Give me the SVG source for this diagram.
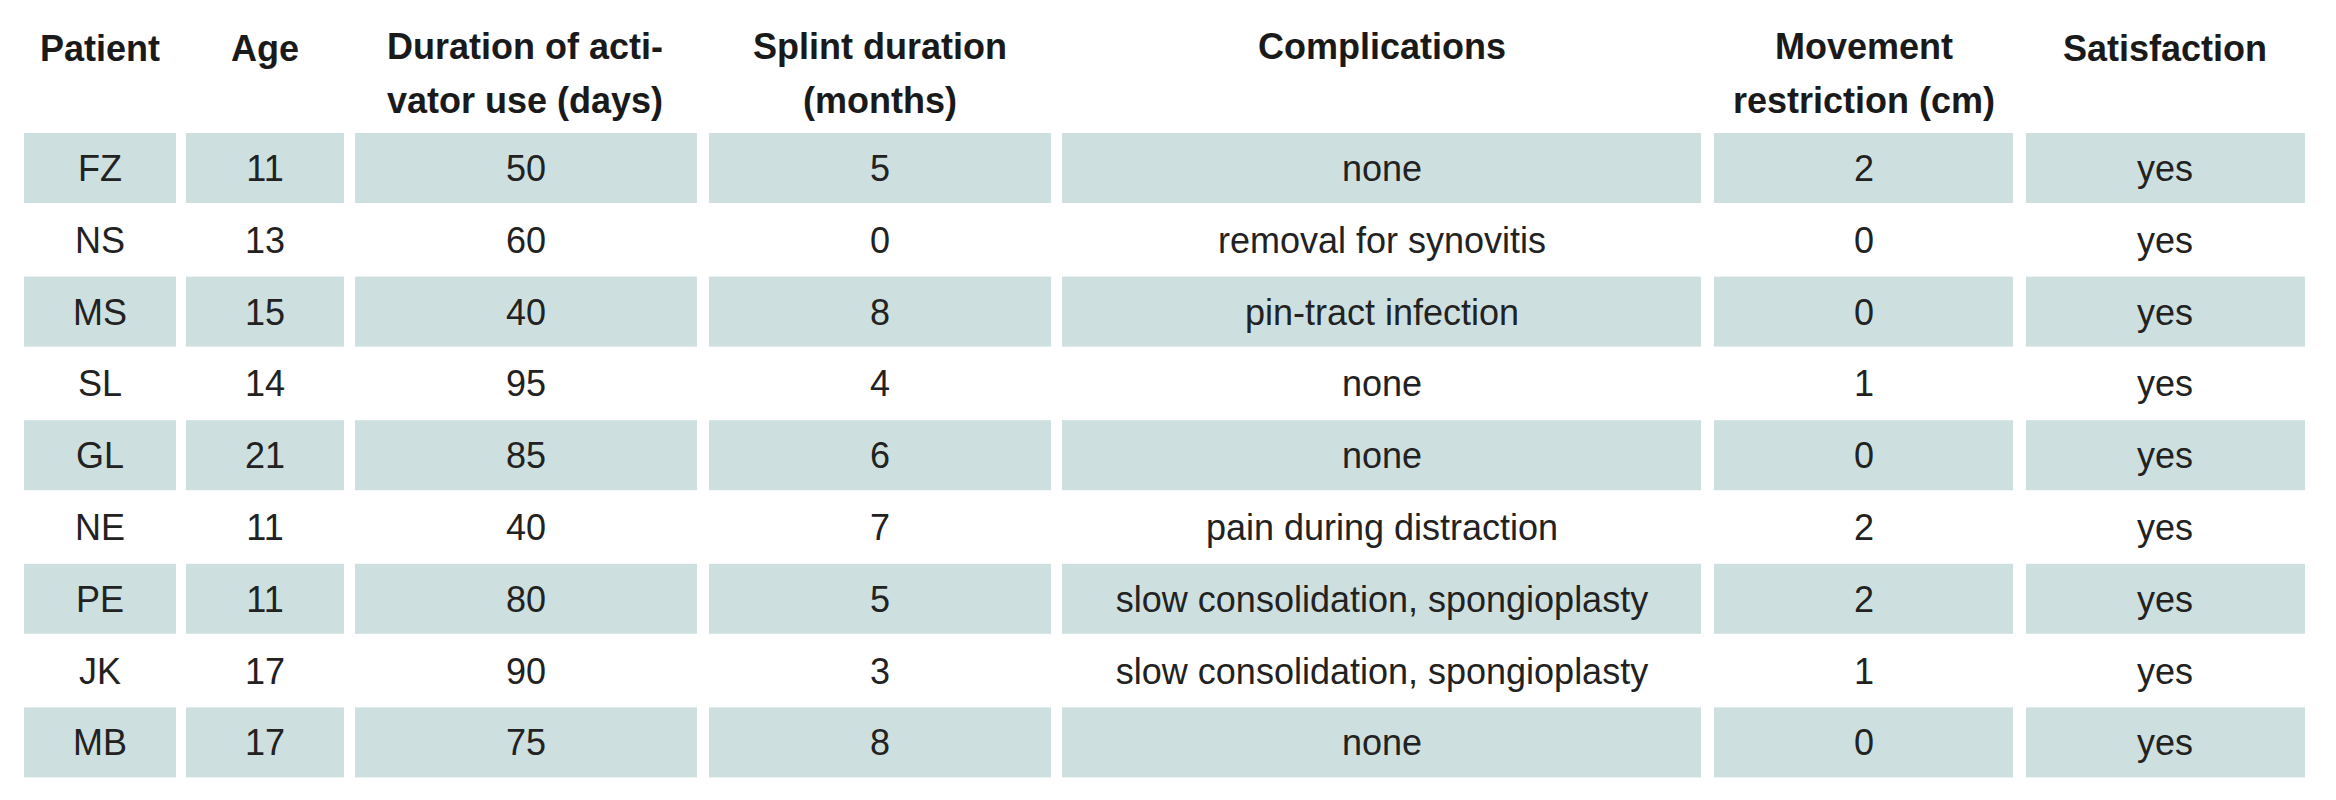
<svg xmlns="http://www.w3.org/2000/svg" width="2336" height="800" viewBox="0 0 2336 800">
<style>
.h{font-family:"Liberation Sans Narrow","Liberation Sans",sans-serif;font-weight:bold;font-size:36px;fill:#1a1a1a;text-anchor:middle}
.t{font-family:"Liberation Sans Narrow","Liberation Sans",sans-serif;font-size:36px;fill:#222;text-anchor:middle}
.c{fill:#cde0df}
</style>
<rect width="2336" height="800" fill="#fff"/>
<g id="header">
<text class="h" x="100" y="61">Patient</text>
<text class="h" x="265" y="61">Age</text>
<text class="h" x="525" y="59">Duration of acti-</text>
<text class="h" x="525" y="113">vator use (days)</text>
<text class="h" x="880" y="59">Splint duration</text>
<text class="h" x="880" y="113">(months)</text>
<text class="h" x="1382" y="59">Complications</text>
<text class="h" x="1864" y="59">Movement</text>
<text class="h" x="1864" y="113">restriction (cm)</text>
<text class="h" x="2165" y="61">Satisfaction</text>
</g>
<g id="shading">
<g id="r1"><rect class="c" x="24" y="133" width="152" height="70"/><rect class="c" x="186" y="133" width="158" height="70"/><rect class="c" x="355" y="133" width="342" height="70"/><rect class="c" x="709" y="133" width="342" height="70"/><rect class="c" x="1062" y="133" width="639" height="70"/><rect class="c" x="1714" y="133" width="299" height="70"/><rect class="c" x="2026" y="133" width="279" height="70"/></g>
<g id="r3" transform="translate(0,143.6)"><rect class="c" x="24" y="133" width="152" height="70"/><rect class="c" x="186" y="133" width="158" height="70"/><rect class="c" x="355" y="133" width="342" height="70"/><rect class="c" x="709" y="133" width="342" height="70"/><rect class="c" x="1062" y="133" width="639" height="70"/><rect class="c" x="1714" y="133" width="299" height="70"/><rect class="c" x="2026" y="133" width="279" height="70"/></g>
<g id="r5" transform="translate(0,287.2)"><rect class="c" x="24" y="133" width="152" height="70"/><rect class="c" x="186" y="133" width="158" height="70"/><rect class="c" x="355" y="133" width="342" height="70"/><rect class="c" x="709" y="133" width="342" height="70"/><rect class="c" x="1062" y="133" width="639" height="70"/><rect class="c" x="1714" y="133" width="299" height="70"/><rect class="c" x="2026" y="133" width="279" height="70"/></g>
<g id="r7" transform="translate(0,430.8)"><rect class="c" x="24" y="133" width="152" height="70"/><rect class="c" x="186" y="133" width="158" height="70"/><rect class="c" x="355" y="133" width="342" height="70"/><rect class="c" x="709" y="133" width="342" height="70"/><rect class="c" x="1062" y="133" width="639" height="70"/><rect class="c" x="1714" y="133" width="299" height="70"/><rect class="c" x="2026" y="133" width="279" height="70"/></g>
<g id="r9" transform="translate(0,574.4)"><rect class="c" x="24" y="133" width="152" height="70"/><rect class="c" x="186" y="133" width="158" height="70"/><rect class="c" x="355" y="133" width="342" height="70"/><rect class="c" x="709" y="133" width="342" height="70"/><rect class="c" x="1062" y="133" width="639" height="70"/><rect class="c" x="1714" y="133" width="299" height="70"/><rect class="c" x="2026" y="133" width="279" height="70"/></g>
</g>
<g id="body">
<g transform="translate(0,181)"><text class="t" x="100">FZ</text><text class="t" x="265">11</text><text class="t" x="526">50</text><text class="t" x="880">5</text><text class="t" x="1382">none</text><text class="t" x="1864">2</text><text class="t" x="2165">yes</text></g>
<g transform="translate(0,252.8)"><text class="t" x="100">NS</text><text class="t" x="265">13</text><text class="t" x="526">60</text><text class="t" x="880">0</text><text class="t" x="1382">removal for synovitis</text><text class="t" x="1864">0</text><text class="t" x="2165">yes</text></g>
<g transform="translate(0,324.6)"><text class="t" x="100">MS</text><text class="t" x="265">15</text><text class="t" x="526">40</text><text class="t" x="880">8</text><text class="t" x="1382">pin-tract infection</text><text class="t" x="1864">0</text><text class="t" x="2165">yes</text></g>
<g transform="translate(0,396.4)"><text class="t" x="100">SL</text><text class="t" x="265">14</text><text class="t" x="526">95</text><text class="t" x="880">4</text><text class="t" x="1382">none</text><text class="t" x="1864">1</text><text class="t" x="2165">yes</text></g>
<g transform="translate(0,468.2)"><text class="t" x="100">GL</text><text class="t" x="265">21</text><text class="t" x="526">85</text><text class="t" x="880">6</text><text class="t" x="1382">none</text><text class="t" x="1864">0</text><text class="t" x="2165">yes</text></g>
<g transform="translate(0,540)"><text class="t" x="100">NE</text><text class="t" x="265">11</text><text class="t" x="526">40</text><text class="t" x="880">7</text><text class="t" x="1382">pain during distraction</text><text class="t" x="1864">2</text><text class="t" x="2165">yes</text></g>
<g transform="translate(0,611.8)"><text class="t" x="100">PE</text><text class="t" x="265">11</text><text class="t" x="526">80</text><text class="t" x="880">5</text><text class="t" x="1382">slow consolidation, spongioplasty</text><text class="t" x="1864">2</text><text class="t" x="2165">yes</text></g>
<g transform="translate(0,683.6)"><text class="t" x="100">JK</text><text class="t" x="265">17</text><text class="t" x="526">90</text><text class="t" x="880">3</text><text class="t" x="1382">slow consolidation, spongioplasty</text><text class="t" x="1864">1</text><text class="t" x="2165">yes</text></g>
<g transform="translate(0,755.4)"><text class="t" x="100">MB</text><text class="t" x="265">17</text><text class="t" x="526">75</text><text class="t" x="880">8</text><text class="t" x="1382">none</text><text class="t" x="1864">0</text><text class="t" x="2165">yes</text></g>
</g>
</svg>
